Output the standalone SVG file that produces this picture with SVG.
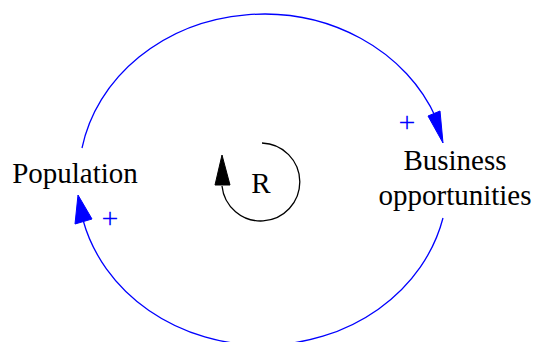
<svg xmlns="http://www.w3.org/2000/svg" width="535" height="342" viewBox="0 0 535 342">
<style>
.lbl{font-family:'Liberation Serif',serif;font-size:29px;fill:#000}
.link{fill:none;stroke:#0000ff;stroke-width:1.3}
.head{fill:#0000ff;stroke:#0000ff;stroke-width:1}
.pol{font-family:'Liberation Serif',serif;font-size:30px;fill:#0000ff}
.loop{fill:none;stroke:#000;stroke-width:1.3}
.loophead{fill:#000;stroke:#000;stroke-width:1}
</style>
<rect width="535" height="342" fill="#fff"/>
<g id="connectors">
<path class="link" d="M82,148 A185,164 0 0 1 436,118"/>
<polygon class="head" points="443,143 428,116 440,111"/>
<text class="pol" x="407" y="132" text-anchor="middle">+</text>
<path class="link" d="M443,218 A185,164 0 0 1 83,220"/>
<polygon class="head" points="78,195 75,224 92,219"/>
<text class="pol" x="110" y="228" text-anchor="middle">+</text>
</g>
<g id="loop">
<path class="loop" d="M262,143 A39,39 0 1 1 222,186"/>
<polygon class="loophead" points="222,155 215,185 230,185"/>
<text class="lbl" x="261" y="193" text-anchor="middle">R</text>
</g>
<g id="population">
<text class="lbl" x="75" y="183" text-anchor="middle">Population</text>
</g>
<g id="business">
<text class="lbl" x="455" y="170" text-anchor="middle">Business</text>
<text class="lbl" x="455" y="205" text-anchor="middle">opportunities</text>
</g>
</svg>
